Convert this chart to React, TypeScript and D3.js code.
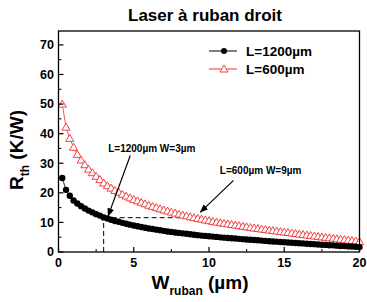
import * as d3 from 'd3';

// stripe width (µm)
const widths = [
  0.25, 0.5, 0.75, 1, 1.25, 1.5, 1.75, 2, 2.25, 2.5, 2.75, 3, 3.25, 3.5, 3.75, 4,
  4.25, 4.5, 4.75, 5, 5.25, 5.5, 5.75, 6, 6.25, 6.5, 6.75, 7, 7.25, 7.5, 7.75, 8,
  8.25, 8.5, 8.75, 9, 9.25, 9.5, 9.75, 10, 10.25, 10.5, 10.75, 11, 11.25, 11.5, 11.75, 12,
  12.25, 12.5, 12.75, 13, 13.25, 13.5, 13.75, 14, 14.25, 14.5, 14.75, 15, 15.25, 15.5, 15.75, 16,
  16.25, 16.5, 16.75, 17, 17.25, 17.5, 17.75, 18, 18.25, 18.5, 18.75, 19, 19.25, 19.5, 19.75, 20,
];

// Rth (K/W), L=1200µm
const rth1200 = [
  25.0, 21.0, 19.0, 17.4, 16.4, 15.5, 14.7, 14.0, 13.4, 12.8, 12.3, 11.7, 11.3, 10.9, 10.5, 10.2,
  9.85, 9.55, 9.25, 8.95, 8.7, 8.45, 8.2, 7.95, 7.75, 7.55, 7.35, 7.15, 6.95, 6.8, 6.6, 6.45,
  6.3, 6.15, 6.0, 5.85, 5.7, 5.55, 5.45, 5.3, 5.2, 5.1, 4.95, 4.85, 4.75, 4.65, 4.55, 4.45,
  4.35, 4.25, 4.15, 4.05, 3.95, 3.85, 3.75, 3.65, 3.55, 3.5, 3.4, 3.3, 3.2, 3.15, 3.05, 2.95,
  2.9, 2.8, 2.7, 2.65, 2.55, 2.45, 2.4, 2.3, 2.25, 2.15, 2.05, 2.0, 1.9, 1.85, 1.75, 1.65,
];

// Rth (K/W), L=600µm
const rth600 = [
  50.0, 42.2, 38.4, 35.4, 33.0, 31.1, 29.5, 28.0, 26.8, 25.6, 24.5, 23.3, 22.4, 21.6, 20.8, 20.2,
  19.5, 18.9, 18.3, 17.8, 17.3, 16.8, 16.3, 15.8, 15.4, 15.0, 14.6, 14.2, 13.85, 13.5, 13.15, 12.8,
  12.5, 12.2, 11.9, 11.6, 11.35, 11.1, 10.85, 10.6, 10.35, 10.1, 9.9, 9.7, 9.5, 9.3, 9.1, 8.9,
  8.7, 8.5, 8.3, 8.1, 7.95, 7.75, 7.6, 7.4, 7.25, 7.1, 6.9, 6.75, 6.6, 6.42, 6.25, 6.08,
  5.92, 5.75, 5.6, 5.43, 5.27, 5.1, 4.95, 4.8, 4.64, 4.48, 4.33, 4.18, 4.02, 3.87, 3.72, 3.55,
];

const xTicks = [0, 5, 10, 15, 20];
const xMinor = [2.5, 7.5, 12.5, 17.5];
const yTicks = [0, 10, 20, 30, 40, 50, 60, 70];
const yMinor = [5, 15, 25, 35, 45, 55, 65];

const legend = [
  { label: 'L=1200µm', color: '#000', kind: 'circle' },
  { label: 'L=600µm', color: '#f03030', kind: 'triangle' },
];

const W = 367;
const H = 302;
const margin = { top: 31, right: 7.5, bottom: 50, left: 58.5 };
const font = '"Liberation Sans", Arial, sans-serif';

export default function App() {
  const x = d3.scaleLinear().domain([0, 20]).range([margin.left, W - margin.right]);
  const y = d3.scaleLinear().domain([0, 74.7]).range([H - margin.bottom, margin.top]);

  const line = d3.line<number>()
    .x((_, i) => x(widths[i]))
    .y((d) => y(d));

  const tri = d3.symbol().type(d3.symbolTriangle).size(28)();
  const y0 = y(0);
  const x0 = x(0);

  return (
    <svg width={W} height={H} style={{ position: 'absolute', left: 0, top: 0 }} fontFamily={font}>
      <defs>
        <marker id="arrow" viewBox="0 0 10 10" refX="9" refY="5" markerWidth="7" markerHeight="7" orient="auto">
          <path d="M0,1 L10,5 L0,9 Z" fill="#000" />
        </marker>
      </defs>

      <text x={205} y={21} textAnchor="middle" fontSize={17} fontWeight="bold">Laser à ruban droit</text>

      {/* dashed guides */}
      <line x1={x(3)} x2={x(3)} y1={y0} y2={y(11.6)} stroke="#000" strokeDasharray="5,3" strokeWidth={1} />
      <line x1={x(3)} x2={x(9)} y1={y(11.6)} y2={y(11.6)} stroke="#000" strokeDasharray="5,3" strokeWidth={1} />

      {/* L=600 */}
      <path d={line(rth600) ?? ''} fill="none" stroke="#f03030" strokeWidth={0.8} />
      {rth600.map((v, i) => (
        <path key={i} d={tri} transform={`translate(${x(widths[i])},${y(v) + 0.7})`} fill="#fff" stroke="#f03030" strokeWidth={0.9} />
      ))}

      {/* L=1200 */}
      <path d={line(rth1200) ?? ''} fill="none" stroke="#000" strokeWidth={0.8} />
      {rth1200.map((v, i) => (
        <circle key={i} cx={x(widths[i])} cy={y(v)} r={3.2} fill="#000" />
      ))}

      {/* frame */}
      <rect x={margin.left} y={margin.top} width={W - margin.right - margin.left} height={y0 - margin.top} fill="none" stroke="#000" strokeWidth={1.3} />

      {xTicks.map((t) => (
        <g key={t}>
          <line x1={x(t)} x2={x(t)} y1={y0} y2={y0 - 5} stroke="#000" strokeWidth={1.2} />
          <text x={x(t)} y={267} textAnchor="middle" fontSize={12.5} fontWeight="bold">{t}</text>
        </g>
      ))}
      {xMinor.map((t) => (
        <line key={t} x1={x(t)} x2={x(t)} y1={y0} y2={y0 - 3} stroke="#000" strokeWidth={1} />
      ))}
      {yTicks.map((t) => (
        <g key={t}>
          <line x1={x0} x2={x0 + 5} y1={y(t)} y2={y(t)} stroke="#000" strokeWidth={1.2} />
          <text x={54} y={y(t) + 4.3} textAnchor="end" fontSize={12.5} fontWeight="bold">{t}</text>
        </g>
      ))}
      {yMinor.map((t) => (
        <line key={t} x1={x0} x2={x0 + 3} y1={y(t)} y2={y(t)} stroke="#000" strokeWidth={1} />
      ))}

      {/* axis titles */}
      <text x={200} y={289} textAnchor="middle" fontSize={19} fontWeight="bold">
        W<tspan fontSize={12} dy={6}>ruban</tspan><tspan dy={-6}> (µm)</tspan>
      </text>
      <text transform="translate(23,150) rotate(-90)" textAnchor="middle" fontSize={19} fontWeight="bold">
        R<tspan fontSize={12} dy={6}>th</tspan><tspan dy={-6}> (K/W)</tspan>
      </text>

      {/* legend */}
      {legend.map((l, i) => {
        const ly = 51 + i * 18;
        return (
          <g key={l.label}>
            <line x1={209} x2={237} y1={ly} y2={ly} stroke={l.color} strokeWidth={1} />
            {l.kind === 'circle'
              ? <circle cx={224} cy={ly} r={3} fill={l.color} />
              : <path d={tri} transform={`translate(224,${ly + 0.7})`} fill="#fff" stroke={l.color} strokeWidth={0.9} />}
            <text x={246} y={ly + 5} fontSize={13.5} fontWeight="bold">{l.label}</text>
          </g>
        );
      })}

      {/* annotations */}
      <text x={x(6.2)} y={y(33.8)} textAnchor="middle" fontSize={10} fontWeight="bold">L=1200µm W=3µm</text>
      <line x1={x(4.77)} y1={y(32.6)} x2={x(3.3)} y2={y(12.2)} stroke="#000" strokeWidth={1.2} markerEnd="url(#arrow)" />
      <text x={x(13.43)} y={y(26.4)} textAnchor="middle" fontSize={10} fontWeight="bold">L=600µm W=9µm</text>
      <line x1={x(11.63)} y1={y(24.2)} x2={x(9.43)} y2={y(13.5)} stroke="#000" strokeWidth={1.2} markerEnd="url(#arrow)" />
    </svg>
  );
}
